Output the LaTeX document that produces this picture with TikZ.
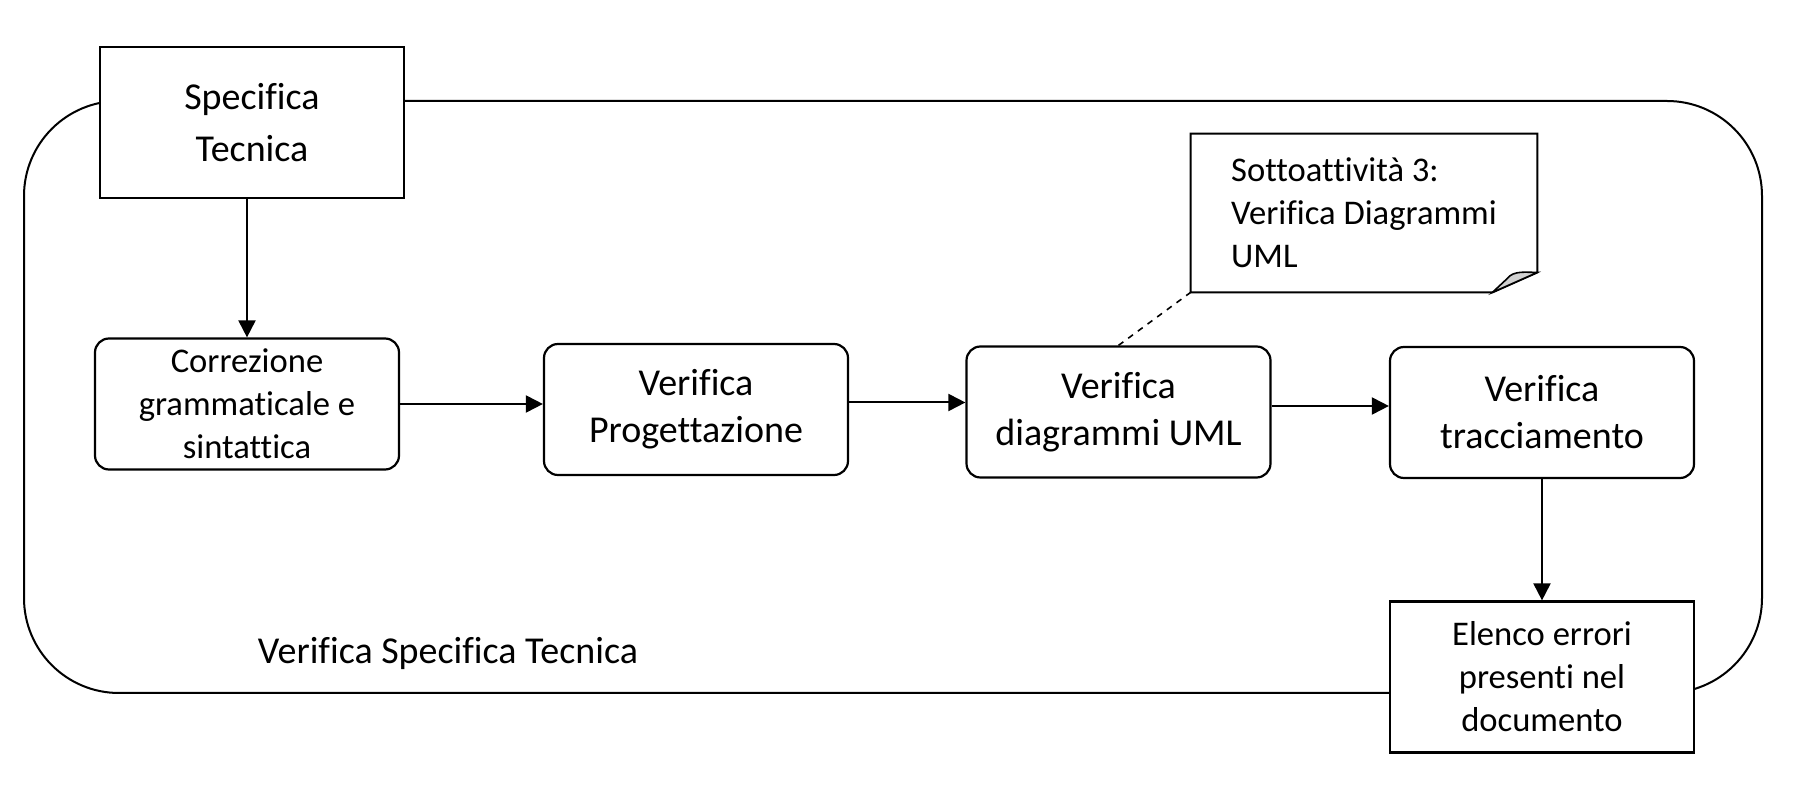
\documentclass[tikz,border=0pt]{standalone}
\usepackage{fontspec}
\setmainfont{Carlito}[Ligatures={NoCommon,NoContextual}]
\usetikzlibrary{arrows.meta}

\newcommand{\testogrande}{\fontsize{19pt}{23.5pt}\selectfont}
\newcommand{\testotitolo}{\fontsize{19pt}{26pt}\selectfont}
\newcommand{\testopiccolo}{\fontsize{17.3pt}{21.5pt}\selectfont}

\tikzset{
    attivita/.style={draw,rectangle,rounded corners=7pt,line width=1.1pt,fill=white,minimum width=152pt,minimum height=65.5pt,align=center},
    documento/.style={draw,rectangle,line width=1.1pt,fill=white,minimum width=152pt,minimum height=75.5pt,align=center},
    freccia/.style={-{Triangle[length=8.5pt,width=8.5pt]},line width=1pt}
}

\begin{document}
\begin{tikzpicture}[x=0.5pt,y=-0.5pt]
                \useasboundingbox (0,0) rectangle (1796,806);
                
                \draw[line width=1pt,rounded corners=47.5pt] (24,101) rectangle (1762,693);
                
                \node[documento,font=\testotitolo] (ST) at (252,122.5) {Specifica\\ Tecnica};
                
                \node[attivita,font=\testopiccolo] (CG) at (247,404) {Correzione\\ grammaticale e\\ sintattica};
                \node[attivita,font=\testogrande] (VP) at (696,409.5) {Verifica\\ Progettazione};
                \node[attivita,font=\testogrande] (VU) at (1118.5,412) {Verifica\\ diagrammi UML};
                \node[attivita,font=\testogrande] (VT) at (1542,412.5) {Verifica\\ tracciamento};
                
                \node[documento,font=\testopiccolo] (EE) at (1542,677) {Elenco errori\\ presenti nel\\ documento};
                
                \node[font=\testogrande] (VS) at (448,653) {Verifica Specifica Tecnica};
                
                \node[font=\testopiccolo,minimum width=173pt,minimum height=79pt,align=left] (SA) at (1364,213) {Sottoattività 3:\\ Verifica Diagrammi\\ UML};
                \draw[line width=1pt] (SA.north west) -- (SA.north east) -- ([yshift=10pt]SA.south east) -- ([xshift=-22.5pt]SA.south east) -- (SA.south west) -- cycle;
                \filldraw[fill=gray!35,line width=0.8pt] ([xshift=-22.5pt]SA.south east) -- ([xshift=-15pt,yshift=7pt]SA.south east) .. controls ([xshift=-12pt,yshift=11pt]SA.south east) and ([xshift=-6pt,yshift=10pt]SA.south east) .. ([yshift=10pt]SA.south east) -- cycle;
                
                \draw[freccia] (ST.south -| CG.north) -- (CG.north);
                \draw[freccia] (CG.east) -- (CG.east -| VP.west);
                \draw[freccia] ([yshift=3.5pt]VP.east) -- ([yshift=3.5pt]VP.east -| VU.west);
                \draw[freccia] ([yshift=3pt]VU.east) -- ([yshift=3pt]VU.east -| VT.west);
                \draw[freccia] (VT) -- (EE);
                
                \draw[dashed,line width=0.8pt] (VU.north) -- (SA.south west);
            \end{tikzpicture}
\end{document}
